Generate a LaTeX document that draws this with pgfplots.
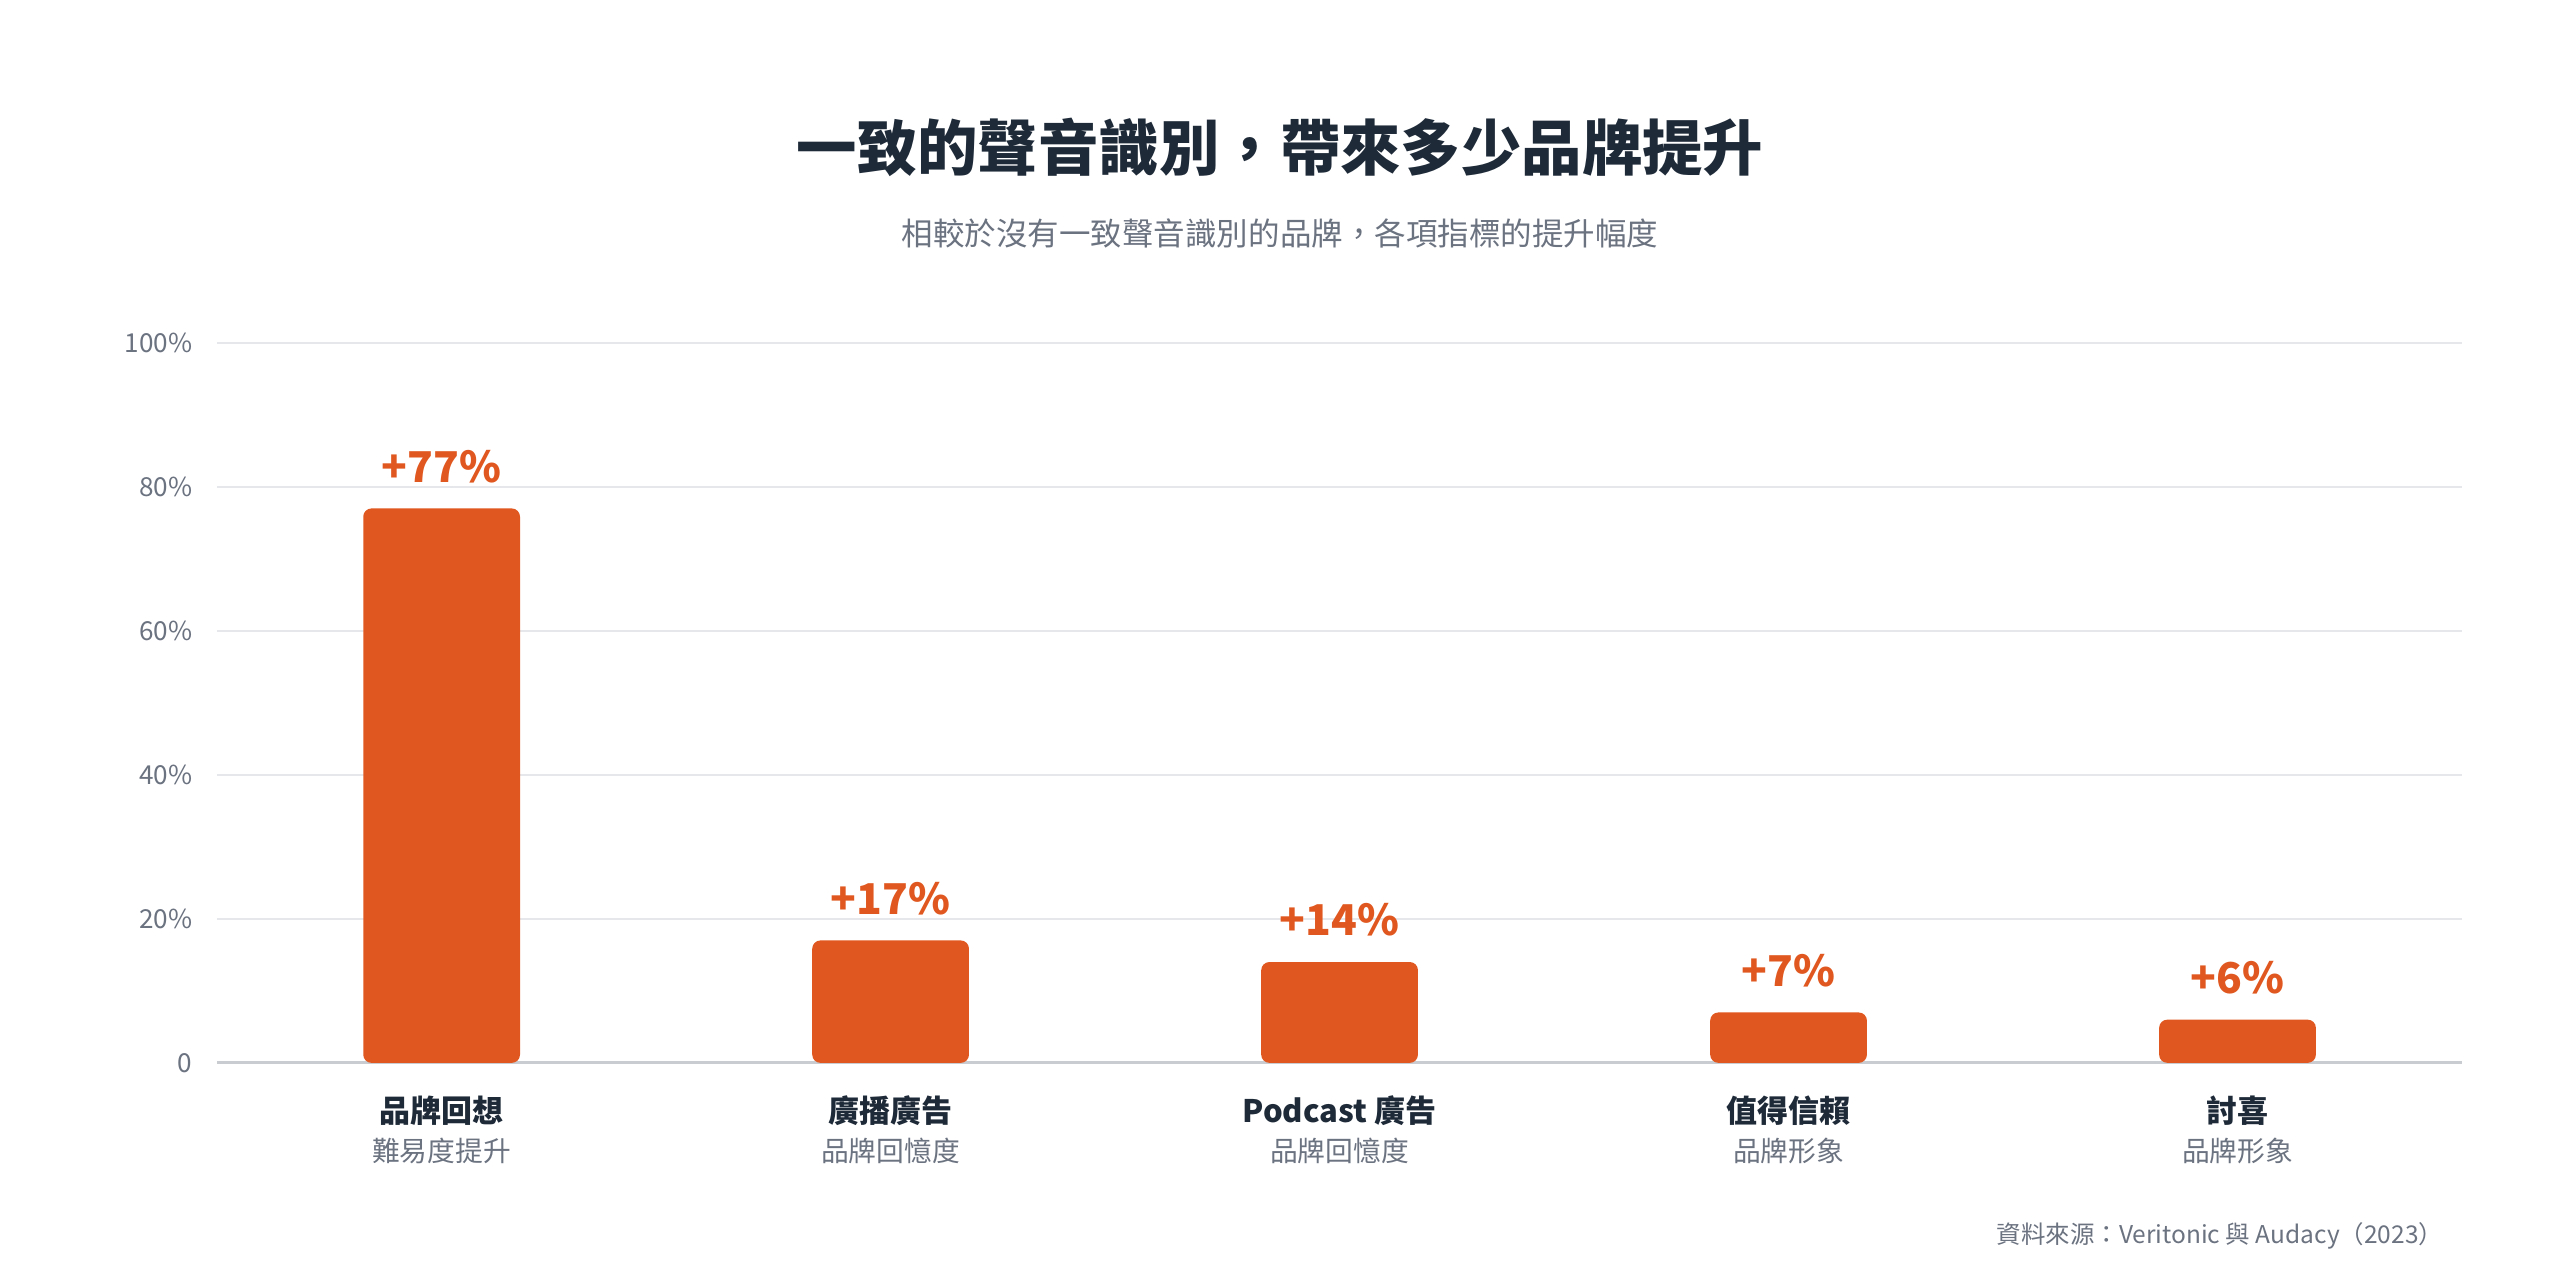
\documentclass[border=0pt]{standalone}
\usepackage{fontspec}
\setmainfont{Noto Sans CJK TC}
\newfontfamily\blackfont{Noto Sans CJK TC Black}
\usepackage{pgfplots}
\pgfplotsset{compat=1.18}
\definecolor{barorange}{HTML}{E0581F}
\definecolor{titledark}{HTML}{1E2A38}
\definecolor{subgray}{HTML}{6B7280}
\definecolor{gridgray}{HTML}{E6E7EA}
\definecolor{basegray}{HTML}{C9CCD1}

\begin{document}
\begin{tikzpicture}
\useasboundingbox (0pt,0pt) rectangle (1568pt,781pt);
% titles
\node[font=\fontsize{37}{44}\selectfont\blackfont, text=titledark] at (784pt,691pt) {一致的聲音識別，帶來多少品牌提升};
\node[font=\fontsize{19.3}{23}\selectfont, text=subgray] at (784pt,638pt) {相較於沒有一致聲音識別的品牌，各項指標的提升幅度};

\begin{axis}[
  at={(133pt,130pt)}, anchor=south west,
  scale only axis, width=1375pt, height=441pt,
  xmin=-0.5, xmax=4.5, ymin=0, ymax=100,
  axis line style={draw=none},
  tick style={draw=none},
  ymajorgrids, grid style={gridgray, line width=1pt},
  ytick={0,20,40,60,80,100},
  yticklabels={0,20\%,40\%,60\%,80\%,100\%},
  yticklabel style={font=\fontsize{16}{19}\selectfont, text=subgray, inner sep=0pt, xshift=-15pt},
  xtick={0,1,2,3,4},
  xticklabels={
    {\textbf{品牌回想}\\{\fontsize{17}{20}\selectfont\color{subgray}難易度提升}},
    {\textbf{廣播廣告}\\{\fontsize{17}{20}\selectfont\color{subgray}品牌回憶度}},
    {\textbf{Podcast 廣告}\\{\fontsize{17}{20}\selectfont\color{subgray}品牌回憶度}},
    {\textbf{值得信賴}\\{\fontsize{17}{20}\selectfont\color{subgray}品牌形象}},
    {\textbf{討喜}\\{\fontsize{17}{20}\selectfont\color{subgray}品牌形象}}},
  xticklabel style={align=center, font=\fontsize{19}{24}\selectfont, text=titledark, inner sep=0pt, yshift=-20pt},
  clip=false,
]
\draw[basegray, line width=2pt] (axis cs:-0.5,0) -- (axis cs:4.5,0);
\addplot[ybar, bar width=96pt, fill=barorange, draw=none, rounded corners=5pt,
  point meta=explicit symbolic,
  nodes near coords,
  nodes near coords style={font=\fontsize{26}{30}\selectfont\blackfont, text=barorange, anchor=base, inner sep=0pt, yshift=16pt}]
  coordinates {(0,77) [+77\%] (1,17) [+17\%] (2,14) [+14\%] (3,7) [+7\%] (4,6) [+6\%]};
\end{axis}

\node[anchor=east, font=\fontsize{15}{18}\selectfont, text=subgray] at (1500pt,24pt) {資料來源：Veritonic 與 Audacy（2023）};
\end{tikzpicture}
\end{document}
